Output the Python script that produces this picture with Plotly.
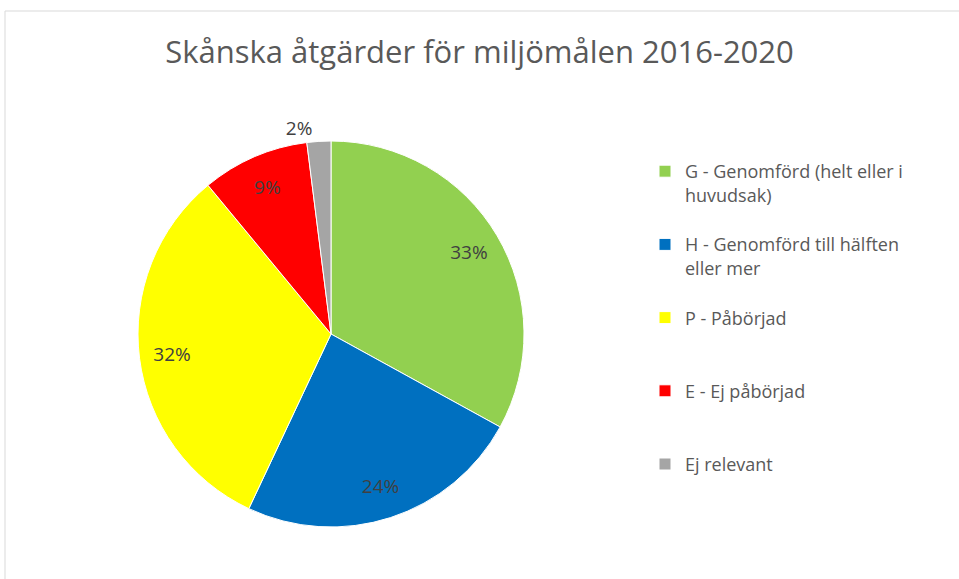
import plotly.graph_objects as go

labels = [
    "G - Genomförd (helt eller i<br>huvudsak)",
    "H - Genomförd till hälften<br>eller mer",
    "P - Påbörjad",
    "E - Ej påbörjad",
    "Ej relevant",
]
values = [33, 24, 32, 9, 2]
colors = ["#92D050", "#0070C0", "#FFFF00", "#FF0000", "#A5A5A5"]
text_pos = ["inside", "inside", "inside", "inside", "outside"]

W, H = 959, 579
cx, cy, r = 331, 334, 193
FONT = "Open Sans, Lato, sans-serif"

# pad legend labels so every entry has three lines -> even spacing
legend_labels = []
for lab in labels:
    n = lab.count("<br>") + 1
    legend_labels.append(lab + "<br> " * (3 - n))

domain = dict(x=[(cx - r) / W, (cx + r) / W], y=[1 - (cy + r) / H, 1 - (cy - r) / H])

fig = go.Figure()
# coloured pie
fig.add_trace(go.Pie(
    labels=legend_labels,
    values=values,
    sort=False,
    direction="clockwise",
    rotation=0,
    marker=dict(colors=colors, line=dict(color="white", width=1)),
    textinfo="none",
    domain=domain,
    hoverinfo="label+percent",
))
# transparent ring carrying the data labels near the rim
fig.add_trace(go.Pie(
    labels=legend_labels,
    values=values,
    sort=False,
    direction="clockwise",
    rotation=0,
    hole=0.66,
    marker=dict(colors=["rgba(0,0,0,0)"] * len(values), line=dict(width=0)),
    textinfo="percent",
    texttemplate="%{percent:.0%}",
    textposition=text_pos,
    insidetextorientation="horizontal",
    textfont=dict(family=FONT, size=19, color="#404040"),
    domain=domain,
    showlegend=False,
    hoverinfo="skip",
))

fig.update_layout(
    width=W, height=H,
    margin=dict(l=0, r=0, t=0, b=0),
    paper_bgcolor="white",
    title=dict(
        text="Skånska åtgärder för miljömålen 2016-2020",
        x=0.5, xanchor="center", y=1 - 52 / H, yanchor="middle",
        font=dict(family=FONT, size=31, color="#595959"),
    ),
    legend=dict(
        x=645 / W, xanchor="left", y=1 - 153 / H, yanchor="top",
        font=dict(family=FONT, size=18, color="#595959"),
        valign="top",
        bgcolor="rgba(0,0,0,0)",
    ),
    shapes=[dict(
        type="rect", xref="paper", yref="paper",
        x0=5 / W, x1=1.1, y0=-0.1, y1=1 - 11 / H,
        line=dict(color="#D9D9D9", width=1),
    )],
)

fig.write_html(
    "out.html",
    config={"displayModeBar": False},
    post_script="document.body.style.margin='0px';document.body.style.padding='0px';",
)
